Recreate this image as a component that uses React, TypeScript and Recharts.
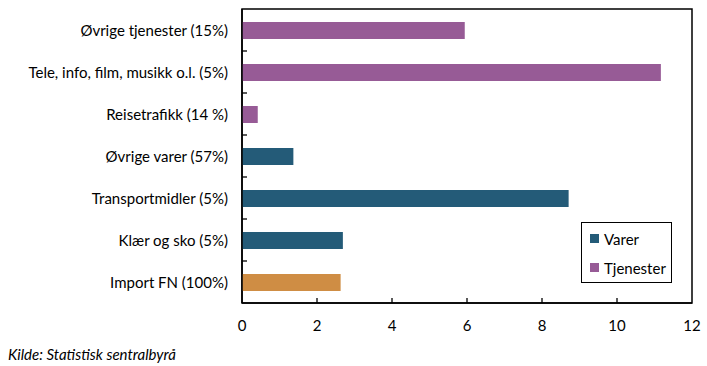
import { BarChart, Bar, XAxis, YAxis, Cell, ReferenceArea } from "recharts";

const categories = [
  "Øvrige tjenester (15%)",
  "Tele, info, film, musikk o.l. (5%)",
  "Reisetrafikk (14 %)",
  "Øvrige varer (57%)",
  "Transportmidler (5%)",
  "Klær og sko (5%)",
  "Import FN (100%)",
];
const values = [5.94, 11.17, 0.42, 1.37, 8.71, 2.69, 2.63];
const groups = ["tjenester", "tjenester", "tjenester", "varer", "varer", "varer", "total"];
const xTicks = [0, 2, 4, 6, 8, 10, 12];
const legendItems = [
  { key: "varer", label: "Varer" },
  { key: "tjenester", label: "Tjenester" },
];

const COLORS: Record<string, string> = {
  varer: "#245b78",
  tjenester: "#975b96",
  total: "#cf8d44",
};

const W = 707;
const H = 366;
const PLOT_TOP = 9;
const PLOT_BOTTOM = 303;
const BAND = (PLOT_BOTTOM - PLOT_TOP) / categories.length;
const FONT = "Lato, 'Open Sans', sans-serif";

const data = categories.map((name, i) => ({ name, value: values[i], group: groups[i] }));

// eslint-disable-next-line @typescript-eslint/no-explicit-any
const XTick = (props: any) => {
  const { x, y, payload } = props;
  return (
    <g>
      {payload.value !== 0 && payload.value !== 12 && (
        <line x1={x} x2={x} y1={y} y2={y - 5} stroke="#000" strokeWidth={1.3} />
      )}
      <text x={x} y={y + 22} textAnchor="middle" dominantBaseline="central" fontSize={15} fill="#000" fontFamily={FONT}>
        {payload.value}
      </text>
    </g>
  );
};

// eslint-disable-next-line @typescript-eslint/no-explicit-any
const YTick = (props: any) => {
  const { x, y, payload, index } = props;
  return (
    <g>
      {index > 0 && (
        <line x1={x} x2={x + 5} y1={y - BAND / 2} y2={y - BAND / 2} stroke="#000" strokeWidth={1.3} />
      )}
      <text x={x - 14} y={y} textAnchor="end" dominantBaseline="central" fontSize={15} fill="#000" fontFamily={FONT}>
        {payload.value}
      </text>
    </g>
  );
};

export default function App() {
  return (
    <div style={{ position: "absolute", left: 0, top: 0, width: W, height: H, background: "#fff" }}>
      <BarChart
        width={W}
        height={H}
        data={data}
        layout="vertical"
        margin={{ top: PLOT_TOP, right: 15, bottom: 0, left: 0 }}
      >
        <XAxis
          type="number"
          domain={[0, 12]}
          ticks={xTicks}
          height={H - PLOT_BOTTOM}
          tickSize={0}
          tickMargin={0}
          tickLine={false}
          axisLine={{ stroke: "#000", strokeWidth: 1.5 }}
          tick={XTick}
          interval={0}
        />
        <YAxis
          type="category"
          dataKey="name"
          width={242}
          tickSize={0}
          tickMargin={0}
          tickLine={false}
          axisLine={{ stroke: "#000", strokeWidth: 1.5 }}
          tick={YTick}
          interval={0}
        />
        <ReferenceArea x1={0} x2={12} fill="none" stroke="#000" strokeWidth={1.5} ifOverflow="visible" />
        <Bar dataKey="value" barSize={17} isAnimationActive={false}>
          {data.map((d) => (
            <Cell key={d.name} fill={COLORS[d.group]} />
          ))}
        </Bar>
      </BarChart>
      <div
        style={{
          position: "absolute",
          left: 581,
          top: 222,
          width: 89,
          height: 58,
          border: "1.5px solid #000",
          background: "#fff",
          fontFamily: FONT,
          fontSize: 15,
          paddingTop: 1,
          boxSizing: "content-box",
        }}
      >
        {legendItems.map((it) => (
          <div key={it.key} style={{ display: "flex", alignItems: "center", height: 29, paddingLeft: 8 }}>
            <span style={{ width: 9, height: 9, background: COLORS[it.key], marginRight: 5, display: "inline-block" }} />
            <span>{it.label}</span>
          </div>
        ))}
      </div>
      <div
        style={{
          position: "absolute",
          left: 8,
          top: 345,
          fontFamily: FONT,
          fontStyle: "italic",
          fontSize: 15,
          color: "#000",
        }}
      >
        Kilde: Statistisk sentralbyrå
      </div>
    </div>
  );
}
